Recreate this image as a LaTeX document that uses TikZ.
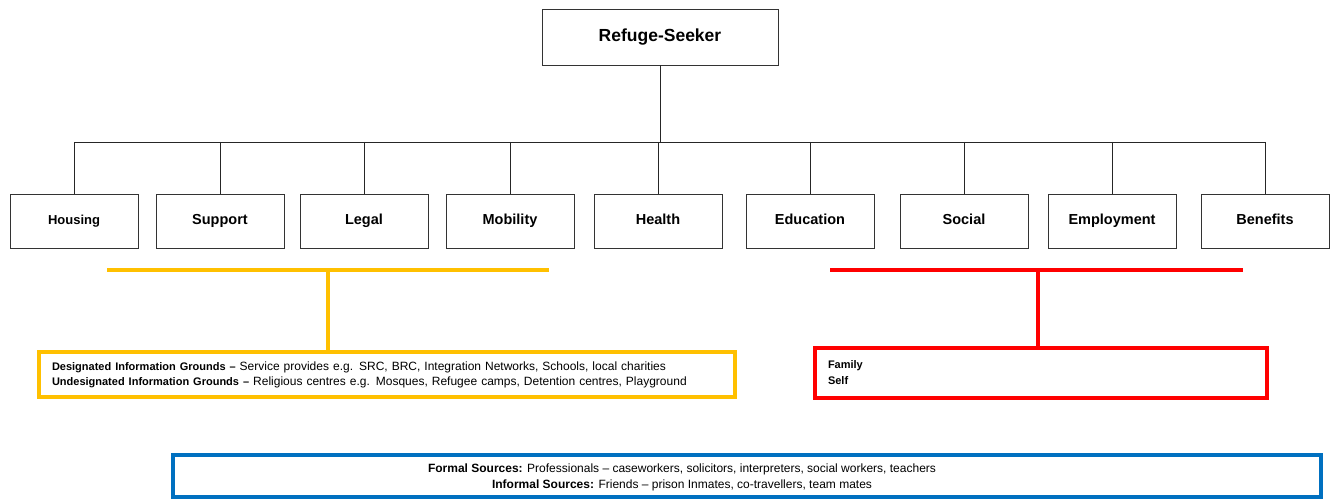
\documentclass[tikz,border=0pt]{standalone}
\usepackage{fontspec}
\setmainfont{Liberation Sans}
\definecolor{gold}{HTML}{FFC000}
\definecolor{alarm}{HTML}{FF0000}
\definecolor{ocean}{HTML}{0070C0}

\begin{document}
\begin{tikzpicture}[x=1pt,y=-1pt,
    topic/.style={draw=black!80,line width=0.9pt,minimum width=128pt,minimum height=54pt,
      inner sep=0pt,text height=10.5pt,text depth=3pt,font=\fontsize{14.5}{17}\selectfont\bfseries},
    tree/.style={draw=black!85,line width=0.9pt},
    frame/.style={draw=#1,line width=3.5pt,inner sep=0pt},
    branch/.style={draw=#1,line width=3.2pt}]
  \useasboundingbox (0,0) rectangle (1331,500);

  \node[topic,minimum width=236pt,minimum height=56pt,text height=13pt,text depth=4pt,
    font=\fontsize{17.5}{20}\selectfont\bfseries] (seeker) at (660,37) {Refuge-Seeker}; % root
  \coordinate (bus) at (660,142); % level of the bus line

  \node[topic,font=\fontsize{13}{16}\selectfont\bfseries] (housing) at (74,221) {Housing};
  \foreach \name/\lbl/\xc in {support/Support/220,legal/Legal/364,mobility/Mobility/510,
      health/Health/658,education/Education/810,social/Social/964,
      employment/Employment/1112,benefits/Benefits/1265}
    \node[topic] (\name) at (\xc,221) {\lbl}; % needs boxes

  \draw[tree] (seeker) -- (bus); % stem
  \draw[tree] (housing.north |- bus) -- (benefits.north |- bus); % bus
  \foreach \name in {housing,support,legal,mobility,health,education,social,employment,benefits}
    \draw[tree] (\name.north |- bus) -- (\name.north); % drops

  % information grounds (yellow)
  \node[frame=gold,minimum width=696pt,minimum height=45pt,text width=670pt,align=left,
    font=\fontsize{12}{15}\selectfont] (grounds) at (387,374.5)
    {{\fontsize{11}{15}\selectfont\bfseries Designated Information Grounds –} Service provides e.g. SRC, BRC, Integration Networks, Schools, local charities\\
     {\fontsize{11}{15}\selectfont\bfseries Undesignated Information Grounds –} Religious centres e.g. Mosques, Refugee camps, Detention centres, Playground};
  \coordinate (ybarl) at (107,270);
  \coordinate (ybarr) at (549,270);
  \coordinate (yjoin) at (328,270);
  \draw[branch=gold] (ybarl) -- (ybarr);
  \draw[branch=gold] (yjoin) -- (yjoin |- grounds.north);

  % family and self (red)
  \node[frame=alarm,minimum width=452pt,minimum height=50pt,text width=426pt,align=left,
    font=\fontsize{11}{16}\selectfont\bfseries] (kin) at (1041,373) {Family\\Self\\[3pt]};
  \coordinate (rbarl) at (830,270);
  \coordinate (rbarr) at (1243,270);
  \coordinate (rjoin) at (1038,270);
  \draw[branch=alarm] (rbarl) -- (rbarr);
  \draw[branch=alarm] (rjoin) -- (rjoin |- kin.north);

  % sources (blue)
  \node[frame=ocean,line width=4pt,minimum width=1148pt,minimum height=42pt] (sources) at (747,476) {};
  \node[align=center,font=\fontsize{12}{16}\selectfont] (sourcetext) at (682,477)
    {\textbf{Formal Sources:} Professionals – caseworkers, solicitors, interpreters, social workers, teachers\\
     \textbf{Informal Sources:} Friends – prison Inmates, co-travellers, team mates};
\end{tikzpicture}
\end{document}
